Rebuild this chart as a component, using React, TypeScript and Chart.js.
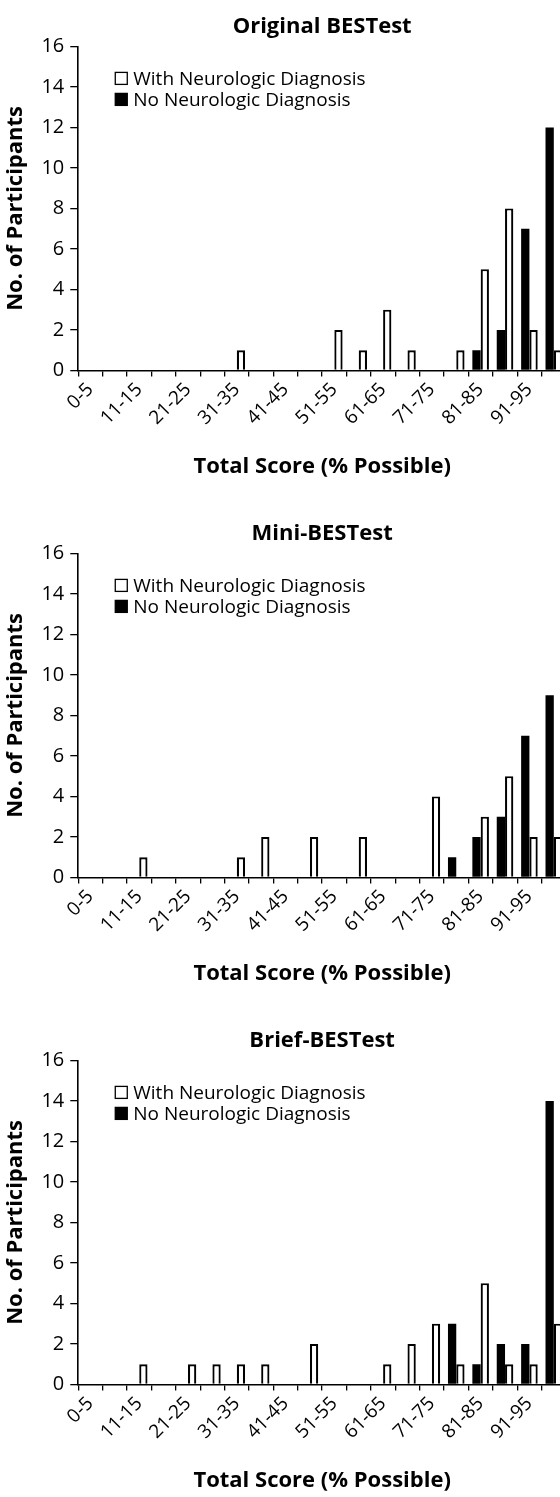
import React, { useEffect, useRef } from "react";
import { Chart, registerables } from "chart.js";

Chart.register(...registerables);

const categories = [
  "0-5", "6-10", "11-15", "16-20", "21-25", "26-30", "31-35", "36-40", "41-45", "46-50",
  "51-55", "56-60", "61-65", "66-70", "71-75", "76-80", "81-85", "86-90", "91-95", "96-100",
];

const seriesNames = ["With Neurologic Diagnosis", "No Neurologic Diagnosis"];
const panelTitles = ["Original BESTest", "Mini-BESTest", "Brief-BESTest"];
const xAxisTitle = "Total Score (% Possible)";
const yAxisTitle = "No. of Participants";
const yTicks = [0, 2, 4, 6, 8, 10, 12, 14, 16];

const originalWith = [0, 0, 0, 0, 0, 0, 1, 0, 0, 0, 2, 1, 3, 1, 0, 1, 5, 8, 2, 1];
const originalWithout = [0, 0, 0, 0, 0, 0, 0, 0, 0, 0, 0, 0, 0, 0, 0, 0, 1, 2, 7, 12];

const miniWith = [0, 0, 1, 0, 0, 0, 1, 2, 0, 2, 0, 2, 0, 0, 4, 0, 3, 5, 2, 2];
const miniWithout = [0, 0, 0, 0, 0, 0, 0, 0, 0, 0, 0, 0, 0, 0, 0, 1, 2, 3, 7, 9];

const briefWith = [0, 0, 1, 0, 1, 1, 1, 1, 0, 2, 0, 0, 1, 2, 3, 1, 5, 1, 1, 3];
const briefWithout = [0, 0, 0, 0, 0, 0, 0, 0, 0, 0, 0, 0, 0, 0, 0, 3, 1, 2, 2, 14];

const FONT = '"Open Sans", "Noto Sans", sans-serif';

const insideLegend = {
  id: "insideLegend",
  afterDraw(chart: any) {
    const { ctx, chartArea } = chart;
    const ds = chart.data.datasets;
    const items = [ds[1], ds[0]];
    ctx.save();
    ctx.font = `19px ${FONT}`;
    ctx.textBaseline = "middle";
    ctx.textAlign = "left";
    items.forEach((d: any, i: number) => {
      const y = chartArea.top + 32 + i * 21;
      const x = chartArea.left + 37;
      const s = 12;
      ctx.fillStyle = d.backgroundColor;
      ctx.fillRect(x, y - s / 2, s, s);
      ctx.strokeStyle = "#000";
      ctx.lineWidth = 1.3;
      ctx.strokeRect(x, y - s / 2, s, s);
      ctx.fillStyle = "#000";
      ctx.fillText(d.label, x + s + 6, y + 1);
    });
    ctx.restore();
  },
};

function Panel({ title, withDx, noDx, top }: { title: string; withDx: number[]; noDx: number[]; top: number }) {
  const ref = useRef<HTMLCanvasElement | null>(null);
  useEffect(() => {
    if (!ref.current) return;
    const chart = new Chart(ref.current, {
      type: "bar",
      data: {
        labels: categories,
        datasets: [
          {
            label: seriesNames[1],
            data: noDx,
            backgroundColor: "#000",
            borderColor: "#000",
            borderWidth: 0,
          },
          {
            label: seriesNames[0],
            data: withDx,
            backgroundColor: "#fff",
            borderColor: "#000",
            borderWidth: 2.2,
          },
        ],
      },
      options: {
        animation: false,
        responsive: false,
        maintainAspectRatio: false,
        devicePixelRatio: 1,
        layout: { padding: { left: 3, right: 14, top: 0, bottom: 0 } },
        datasets: {
          bar: { barPercentage: 1, categoryPercentage: 0.68 },
        },
        plugins: {
          legend: { display: false },
          tooltip: { enabled: false },
          title: {
            display: true,
            text: title,
            fullSize: false,
            color: "#000",
            font: { family: FONT, size: 22, weight: "bold" },
            padding: { top: 14, bottom: 6 },
          },
        },
        scales: {
          x: {
            type: "category",
            offset: true,
            grid: {
              display: true,
              offset: true,
              drawOnChartArea: false,
              drawTicks: true,
              tickLength: 6,
              color: "#000",
              lineWidth: 1.3,
            },
            border: { display: true, color: "#000", width: 1.6 },
            ticks: {
              autoSkip: false,
              maxRotation: 45,
              minRotation: 45,
              padding: 2,
              color: "#000",
              font: { family: FONT, size: 19 },
              callback: (_v: any, i: number) => (i % 2 === 0 ? categories[i] : ""),
            },
            title: {
              display: true,
              text: xAxisTitle,
              color: "#000",
              font: { family: FONT, size: 22, weight: "bold" },
              padding: { top: 22, bottom: 27 },
            },
          },
          y: {
            min: 0,
            max: 16,
            afterBuildTicks: (axis: any) => {
              axis.ticks = yTicks.map((v) => ({ value: v }));
            },
            grid: {
              display: true,
              drawOnChartArea: false,
              drawTicks: true,
              tickLength: 8,
              color: "#000",
              lineWidth: 1.3,
            },
            border: { display: true, color: "#000", width: 1.6 },
            ticks: {
              padding: 6,
              color: "#000",
              font: { family: FONT, size: 20 },
            },
            title: {
              display: true,
              text: yAxisTitle,
              color: "#000",
              font: { family: FONT, size: 22, weight: "bold" },
              padding: { top: 0, bottom: 6 },
            },
          },
        },
      },
      plugins: [insideLegend],
    });
    return () => chart.destroy();
  }, [title, withDx, noDx]);

  return (
    <div style={{ position: "absolute", left: 0, top, width: 580, height: 507 }}>
      <canvas ref={ref} width={580} height={507} style={{ width: 580, height: 507, display: "block" }} />
    </div>
  );
}

export default function App() {
  return (
    <div
      style={{
        position: "fixed",
        left: 0,
        top: 0,
        width: 560,
        height: 1497,
        overflow: "hidden",
        background: "#fff",
      }}
    >
      <Panel title={panelTitles[0]} withDx={originalWith} noDx={originalWithout} top={0} />
      <Panel title={panelTitles[1]} withDx={miniWith} noDx={miniWithout} top={507} />
      <Panel title={panelTitles[2]} withDx={briefWith} noDx={briefWithout} top={1014} />
    </div>
  );
}
